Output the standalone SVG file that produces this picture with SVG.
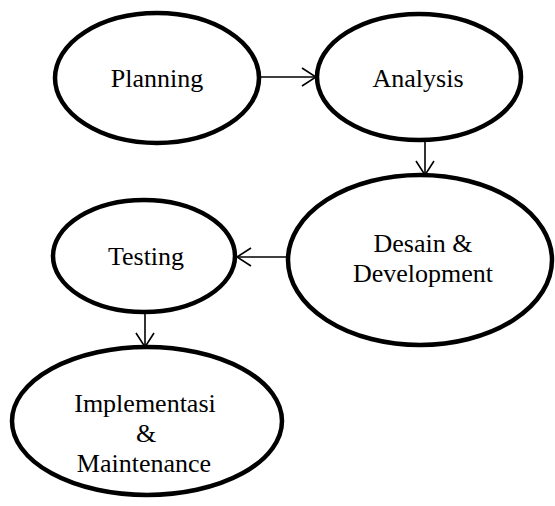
<svg xmlns="http://www.w3.org/2000/svg" width="555" height="506" viewBox="0 0 555 506">
<defs>
<style>
.node ellipse{fill:#fff;stroke:#000;stroke-width:4.5}
.node text{font-family:"Liberation Serif","Times New Roman",serif;font-size:26px;fill:#000;text-anchor:middle}
.edge{stroke:#000;stroke-width:1.6;fill:none}
</style>
<marker id="arr" viewBox="0 0 16 20" refX="15" refY="10" markerWidth="16" markerHeight="20" markerUnits="userSpaceOnUse" orient="auto">
<path d="M1,1 L15,10 L1,19" fill="none" stroke="#000" stroke-width="1.6"/>
</marker>
</defs>
<rect width="555" height="506" fill="#fff"/>
<g id="connectors">
<line class="edge" x1="260" y1="77" x2="316" y2="77" marker-end="url(#arr)"/>
<line class="edge" x1="425" y1="140" x2="425" y2="175" marker-end="url(#arr)"/>
<line class="edge" x1="288" y1="257" x2="237" y2="257" marker-end="url(#arr)"/>
<line class="edge" x1="145" y1="312" x2="145" y2="347" marker-end="url(#arr)"/>
</g>
<g id="planning" class="node">
<ellipse cx="157" cy="78" rx="102" ry="65"/>
<text x="157" y="87">Planning</text>
</g>
<g id="analysis" class="node">
<ellipse cx="419" cy="77" rx="102" ry="63"/>
<text x="418" y="87">Analysis</text>
</g>
<g id="desain" class="node">
<ellipse cx="420" cy="260" rx="132" ry="85"/>
<text x="423" y="252">Desain &amp;</text>
<text x="423" y="282">Development</text>
</g>
<g id="testing" class="node">
<ellipse cx="144" cy="256" rx="91" ry="56"/>
<text x="146" y="265">Testing</text>
</g>
<g id="implementasi" class="node">
<ellipse cx="147" cy="421" rx="135" ry="74"/>
<text x="145" y="412">Implementasi</text>
<text x="146" y="442">&amp;</text>
<text x="144" y="472">Maintenance</text>
</g>
</svg>
